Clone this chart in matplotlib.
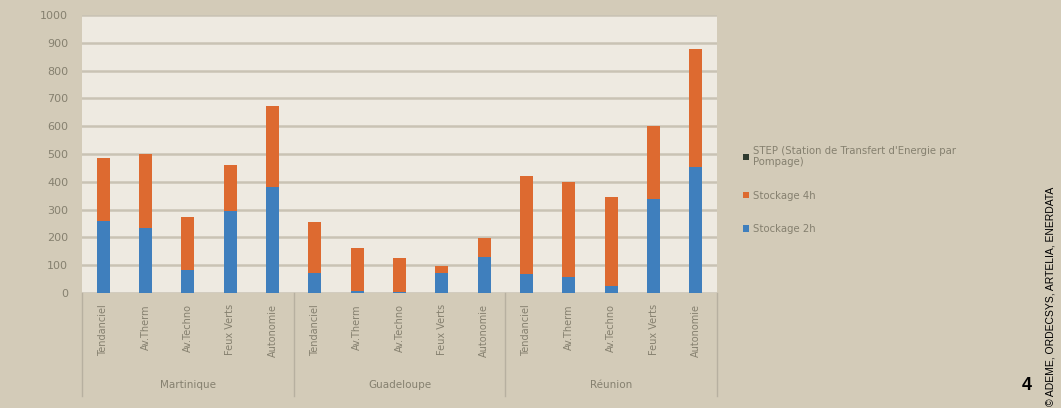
import numpy as np
import matplotlib.pyplot as plt

# scenarios per territory
scenarios = ['Tendanciel', 'Av.Therm', 'Av.Techno', 'Feux Verts', 'Autonomie']
regions = ['Martinique', 'Guadeloupe', 'Réunion']

# values (MW)
stock_2h = [259, 234, 83, 295, 382,
            72, 8, 3, 72, 130,
            68, 58, 25, 338, 454]
stock_4h = [226, 266, 190, 165, 290,
            184, 154, 124, 25, 68,
            353, 342, 321, 263, 423]
step = [0] * 15

labels = scenarios * 3
x = np.arange(len(labels))

bg = '#d3cbb8'
grey_txt = '#85806f'

fig = plt.figure(figsize=(10.61, 4.08), dpi=100, facecolor=bg)
ax = fig.add_axes([0.0773, 0.2819, 0.5985, 0.6814])
ax.set_facecolor('#eeeae1')

w = 0.31
b1 = ax.bar(x, stock_2h, w, color='#3f7fbd', label='Stockage 2h', zorder=3)
b2 = ax.bar(x, stock_4h, w, bottom=stock_2h, color='#dd6a30', label='Stockage 4h', zorder=3)
bottom3 = np.array(stock_2h) + np.array(stock_4h)
b3 = ax.bar(x, step, w, bottom=bottom3, color='#2f3b2f',
            label="STEP (Station de Transfert d'Energie par\nPompage)", zorder=3)

ax.set_xlim(-0.5, 14.5)
ax.set_ylim(0, 1000)
ax.set_yticks(np.arange(0, 1001, 100))
ax.yaxis.grid(True, color='#c9c3b4', lw=1.8, zorder=0)
for s in ax.spines.values():
    s.set_visible(False)
ax.tick_params(axis='y', length=0, labelsize=8, labelcolor=grey_txt, pad=10)
ax.set_xticks(x)
ax.set_xticklabels(labels, rotation=90, fontsize=7, color=grey_txt, va='top')
ax.tick_params(axis='x', length=0, pad=8)

# group separators and region names
tr = ax.get_xaxis_transform()
for xs in [-0.5, 4.5, 9.5, 14.5]:
    ax.plot([xs, xs], [0, -0.37], transform=tr, color='#b7b0a0', lw=1, clip_on=False)
for i, r in enumerate(regions):
    ax.text(i * 5 + 2, -0.33, r, transform=tr, ha='center', va='center',
            fontsize=7.5, color=grey_txt)

leg = fig.legend(handles=[b3, b2, b1], loc='upper left', bbox_to_anchor=(0.692, 0.665),
                 frameon=False, fontsize=7.3, labelcolor=grey_txt, handlelength=0.6,
                 handleheight=0.6, handletextpad=0.4, labelspacing=2.3)

fig.text(0.968, 0.055, '4', fontsize=13, fontweight='bold', ha='center', va='center',
         family='Liberation Sans')
fig.text(0.99, 0.005, '© ADEME, ORDECSYS, ARTELIA, ENERDATA', rotation=90,
         fontsize=7.5, ha='center', va='bottom', family='Liberation Sans')

fig.savefig('out.png', dpi=100, facecolor=bg)
